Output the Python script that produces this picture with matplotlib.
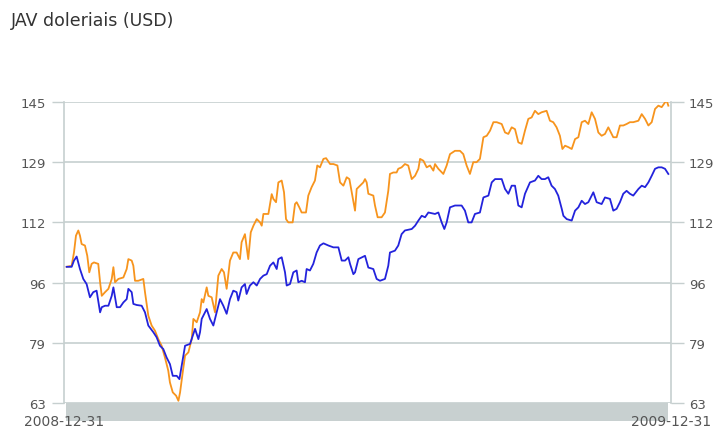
import matplotlib
matplotlib.use('Agg')
from matplotlib import pyplot as plt
from matplotlib.patches import Rectangle

# title / labels
title = 'JAV doleriais (USD)'
start_label = '2008-12-31'
end_label = '2009-12-31'
n_days = 365

y_ticks = [63, 79.4, 95.8, 112.2, 128.6, 145]
y_tick_labels = ['63', '79', '96', '112', '129', '145']

# orange series (days since 2008-12-31, index value)
orange_days = [1.6, 4.6, 6.0, 7.2, 8.6, 9.6, 10.6, 12.6, 14.0, 15.2,
               16.6, 18.0, 20.6, 21.7, 22.7, 24.7, 26.7, 28.7, 29.7, 30.7,
               32.7, 35.7, 37.7, 38.7, 40.7, 41.7, 42.7, 44.7, 47.7, 48.7,
               50.7, 52.7, 54.7, 56.7, 58.7, 60.7, 62.7, 63.7, 65.4, 67.4,
               68.8, 69.8, 71.4, 72.8, 74.8, 76.8, 77.8, 79.8, 81.8, 82.8,
               83.8, 85.8, 86.8, 88.8, 90.8, 92.8, 94.8, 96.2, 97.8, 99.8,
               101.8, 103.8, 105.8, 106.8, 108.8, 110.8, 112.3, 113.9, 115.9, 117.9,
               118.9, 119.9, 122.9, 124.9, 125.9, 127.5, 128.9, 130.9, 132.3, 133.5,
               134.9, 137.5, 138.9, 139.9, 141.5, 142.9, 145.5, 146.9, 148.9, 150.9,
               152.3, 153.9, 156.0, 157.6, 160.0, 162.0, 164.4, 166.0, 168.0, 170.0,
               171.6, 173.0,
               175.0, 176.0, 178.0, 180.0, 181.0, 182.0, 183.0, 186.0, 187.0, 188.6,
               191.0, 193.0, 195.0, 196.0, 198.0, 200.0, 201.0, 203.0, 205.0, 207.0,
               209.1, 211.1, 213.1, 214.1, 216.1, 218.1, 220.1, 222.1, 223.1, 225.1,
               228.1, 230.1, 232.1, 235.1, 238.1, 240.1, 242.1, 244.1, 246.1, 248.1,
               250.1, 252.2, 254.2, 256.2, 258.2, 260.2, 263.2, 265.2, 267.2, 269.2,
               271.2, 273.2, 275.2, 277.2, 279.2, 281.2, 283.2, 285.2, 287.2, 290.2,
               292.2, 294.2, 296.2, 298.2, 299.7, 301.3, 303.3, 305.3, 307.3, 309.3,
               311.3, 313.3, 315.3, 317.3, 319.3, 321.3, 323.3, 325.3, 327.3, 328.3,
               330.3, 332.3, 334.3, 336.3, 338.3, 340.3, 342.3, 345.4, 347.4, 349.4,
               351.4, 353.4, 355.4, 357.4, 359.4, 361.4, 362.4, 363.4]
orange_vals = [100.1, 100.4, 104.0, 108.6, 110.0, 108.6, 106.3, 105.9, 103.1, 98.6,
               100.9, 101.3, 100.9, 95.9, 92.2, 93.2, 94.1, 96.8, 100.0, 95.9,
               96.8, 97.2, 99.5, 102.2, 101.8, 100.4, 96.3, 96.3, 96.8, 93.2,
               86.8, 84.1, 82.7, 80.4, 78.6, 75.4, 71.8, 68.6, 65.9, 65.0,
               63.6, 65.9, 71.4, 75.9, 76.8, 80.4, 85.9, 85.0, 87.7, 91.3,
               90.4, 94.5, 92.2, 91.8, 87.7, 97.7, 99.5, 98.6, 94.1, 101.8,
               104.0, 104.0, 102.2, 106.8, 109.0, 102.2, 109.5, 111.3, 113.1, 112.2,
               111.3, 114.5, 114.5, 119.9, 118.6, 117.7, 123.1, 123.6, 120.4, 113.1,
               112.2, 112.2, 117.2, 117.7, 116.3, 114.9, 114.9, 119.5, 121.8, 123.6,
               127.7, 127.2, 129.5, 129.7, 128.1, 128.1, 127.7, 123.1, 122.2, 124.5,
               124.0, 120.4,
               115.4, 121.3, 122.2, 123.1, 124.0, 123.1, 120.0, 119.5, 116.8, 113.6,
               113.6, 114.9, 120.8, 125.4, 125.8, 125.8, 126.8, 127.2, 128.1, 127.7,
               124.0, 124.9, 126.8, 129.5, 129.0, 127.2, 127.7, 126.3, 128.1, 126.8,
               125.4, 127.7, 130.8, 131.7, 131.7, 130.8, 127.7, 125.4, 128.6, 128.6,
               129.5, 135.4, 135.8, 137.2, 139.5, 139.5, 139.0, 136.7, 136.3, 138.1,
               137.6, 134.0, 133.6, 137.2, 140.4, 140.8, 142.6, 141.7, 142.2, 142.6,
               139.9, 139.5, 138.1, 135.8, 132.2, 133.1, 132.7, 132.2, 134.9, 135.4,
               139.5, 139.9, 139.0, 142.2, 140.4, 136.7, 135.8, 136.3, 138.1, 137.2,
               135.4, 135.4, 138.6, 138.6, 139.0, 139.5, 139.5, 139.9, 141.7, 140.4,
               138.6, 139.5, 143.1, 144.0, 143.6, 144.9, 145.4, 144.0]

# blue series
blue_days = [1.6, 4.6, 6.0, 7.6, 9.6, 11.6, 13.6, 15.6, 17.6, 19.6,
             21.7, 22.7, 24.7, 26.7, 28.7, 29.7, 31.7, 33.7, 35.7, 37.7,
             38.7, 40.7, 41.7, 43.7, 46.7, 48.7, 50.7, 53.7, 55.7, 57.7,
             59.7, 61.7, 63.7, 65.4, 67.8, 69.4, 70.8, 72.8, 75.8, 77.4,
             78.8, 80.8, 81.8, 82.8, 84.8, 85.8, 87.8, 89.8, 91.8, 93.8,
             95.8, 97.8, 99.8, 101.8, 103.8, 104.8, 106.8, 108.8, 109.8, 111.8,
             113.9, 115.9, 117.9, 119.9, 121.9, 123.9, 125.9, 127.9, 128.9, 130.9,
             132.9, 133.9, 135.9, 137.9, 139.9, 140.9, 142.9, 144.9, 145.9, 147.9,
             149.9, 151.9, 153.9, 156.0, 159.0, 162.0, 165.0, 167.0, 169.0, 171.0,
             172.0, 174.0,
             175.0, 177.0, 181.0, 183.0, 186.0, 188.0, 190.0, 193.0, 195.0, 196.0,
             199.0, 201.0, 203.0, 205.0, 209.1, 211.1, 213.1, 215.1, 217.1, 219.1,
             223.1, 225.1, 227.1, 228.7, 230.1, 232.1, 235.1, 239.1, 241.1, 243.1,
             245.1, 247.1, 250.1, 252.2, 255.2, 257.2, 259.2, 263.2, 265.2, 267.2,
             269.2, 271.2, 273.2, 275.2, 277.2, 280.2, 283.2, 285.2, 287.2, 289.2,
             291.2, 293.2, 295.2, 297.2, 299.3, 300.3, 302.3, 305.3, 307.3, 309.3,
             311.3, 313.3, 315.3, 318.3, 320.3, 323.3, 325.3, 328.3, 330.3, 332.3,
             334.3, 336.3, 338.3, 340.3, 342.3, 345.4, 347.4, 349.4, 351.4, 353.4,
             355.4, 357.4, 359.4, 361.4, 363.4]
blue_vals = [100.1, 100.1, 101.8, 102.9, 99.5, 96.8, 95.4, 91.8, 93.2, 93.6,
             87.7, 89.1, 89.5, 89.5, 92.2, 94.5, 89.1, 89.1, 90.4, 91.3,
             94.1, 93.2, 90.0, 89.7, 89.5, 87.7, 84.1, 82.3, 80.9, 78.6,
             77.7, 75.4, 73.6, 70.4, 70.4, 69.5, 73.2, 78.6, 79.1, 81.3,
             83.2, 80.4, 82.3, 85.9, 87.7, 88.6, 85.9, 84.1, 87.7, 91.3,
             89.5, 87.3, 91.3, 93.6, 93.2, 90.9, 94.5, 95.4, 92.7, 95.0,
             95.9, 95.0, 96.8, 97.7, 98.1, 100.4, 101.3, 99.5, 102.2, 102.7,
             98.6, 95.0, 95.4, 98.6, 99.1, 95.9, 96.3, 95.9, 99.5, 99.1,
             100.9, 104.0, 105.9, 106.5, 105.9, 105.4, 105.4, 101.8, 101.8, 102.7,
             100.9, 98.1,
             98.6, 102.2, 103.1, 99.9, 99.5, 96.8, 96.3, 96.8, 100.4, 104.0,
             104.5, 105.9, 109.0, 110.0, 110.4, 111.3, 112.7, 114.0, 113.6, 114.9,
             114.5, 114.9, 112.2, 110.4, 112.2, 116.3, 116.8, 116.8, 115.4, 112.2,
             112.2, 114.5, 114.9, 119.0, 119.5, 123.1, 124.0, 124.0, 121.3, 120.0,
             122.2, 122.2, 116.8, 116.3, 120.0, 123.1, 123.6, 124.9, 124.0, 124.0,
             124.5, 122.2, 121.3, 119.5, 115.9, 114.0, 113.1, 112.7, 115.4, 116.3,
             118.1, 117.2, 117.7, 120.4, 117.7, 117.2, 119.0, 118.6, 115.4, 115.9,
             117.7, 120.0, 120.8, 120.0, 119.5, 121.3, 122.2, 121.8, 123.1, 124.9,
             126.8, 127.2, 127.2, 126.8, 125.4]


def plot_chart():
    grid_col = '#c6cfcf'
    text_col = '#555555'

    fig = plt.figure(figsize=(7.15, 4.31), dpi=100)
    ax = fig.add_axes([64 / 715, 1 - 404 / 431, 607 / 715, 301 / 431])

    # title top left
    fig.text(11 / 715, 1 - 21 / 431, title, fontsize=12.5, color='#333333',
             ha='left', va='center')

    ax.plot(orange_days, orange_vals, color='#f7941d', lw=1.3, zorder=2)
    ax.plot(blue_days, blue_vals, color='#2323dc', lw=1.3, zorder=3)

    ax.set_xlim(0, n_days)
    ax.set_ylim(63, 145)

    # y axis on both sides
    ax.set_yticks(y_ticks)
    ax.set_yticklabels(y_tick_labels)
    ax.tick_params(axis='y', left=True, right=True, labelleft=True, labelright=True,
                   length=9, width=1, color=grid_col, labelcolor=text_col,
                   labelsize=9.5, pad=4)
    ax.yaxis.grid(True, color=grid_col, lw=1.2)

    # start / end dates under the bar
    ax.set_xticks([0, n_days])
    ax.set_xticklabels([start_label, end_label])
    ax.tick_params(axis='x', length=0, labelcolor=text_col, labelsize=10, pad=8)

    for side in ['top', 'bottom']:
        ax.spines[side].set_visible(False)
    for side in ['left', 'right']:
        ax.spines[side].set_color(grid_col)
        ax.spines[side].set_linewidth(1.2)

    # grey bar below the plot
    bar = Rectangle((0.003, -0.06), 0.992, 0.06, transform=ax.transAxes,
                    facecolor='#c8d0d0', edgecolor='none', clip_on=False, zorder=1)
    ax.add_patch(bar)

    fig.savefig('out.png', dpi=100)


def main():
    plot_chart()


if __name__ == '__main__':
    main()
